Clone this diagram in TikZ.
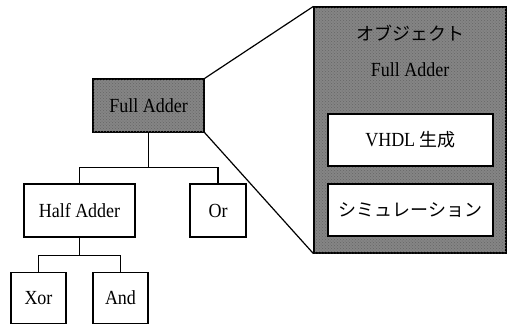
\documentclass[tikz,border=0pt]{standalone}
\usepackage{fontspec}
\setmainfont[FakeStretch=0.9]{Liberation Serif}
\newfontfamily\jp{Noto Sans CJK JP}
\usetikzlibrary{patterns}
\tikzset{
  box/.style={draw=black, line width=1.2pt, fill=white, rectangle, inner sep=0pt, font=\fontsize{20}{22}\selectfont},
  jptext/.style={font=\fontsize{18}{20}\selectfont\jp},
  shaded/.style={box, fill=black!48, postaction={pattern=crosshatch dots, pattern color=black!60}},
  link/.style={draw=black, line width=1.2pt},
}
\begin{document}
\begin{tikzpicture}[x=1pt,y=-1pt]
\useasboundingbox (0,0) rectangle (508,325);
\node[shaded, minimum width=111pt, minimum height=53pt] (fa) at (148.5,105.5) {Full Adder};
\node[box, minimum width=111pt, minimum height=53pt] (ha) at (79.5,210.5) {Half Adder};
\node[box, minimum width=56pt, minimum height=53pt] (or) at (218,210.5) {Or};
\node[box, minimum width=55pt, minimum height=51pt] (xor) at (38.5,298) {Xor};
\node[box, minimum width=55pt, minimum height=51pt] (and) at (120.5,298) {And};
\node[shaded, minimum width=192pt, minimum height=246pt] (big) at (410,130) {};
\node[jptext, inner sep=0pt] (title) at (410,33) {オブジェクト};
\node[font=\fontsize{20}{22}\selectfont, inner sep=0pt] (name) at (410,70) {Full Adder};
\node[box, minimum width=165pt, minimum height=52pt] (vhdl) at (410.5,140) {VHDL {\fontsize{18}{20}\selectfont\jp 生成}};
\node[box, jptext, minimum width=165pt, minimum height=52pt] (sim) at (410.5,210) {シミュレーション};
\draw[link] (fa.south) -- ++(0,35) coordinate (j1) -| (ha.north);
\draw[link] (j1) -| (or.north);
\draw[link] (ha.south) -- ++(0,18) coordinate (j2) -| (xor.north);
\draw[link] (j2) -| (and.north);
\draw[link] (fa.north east) -- (big.north west);
\draw[link] (fa.south east) -- (big.south west);
\end{tikzpicture}
\end{document}
